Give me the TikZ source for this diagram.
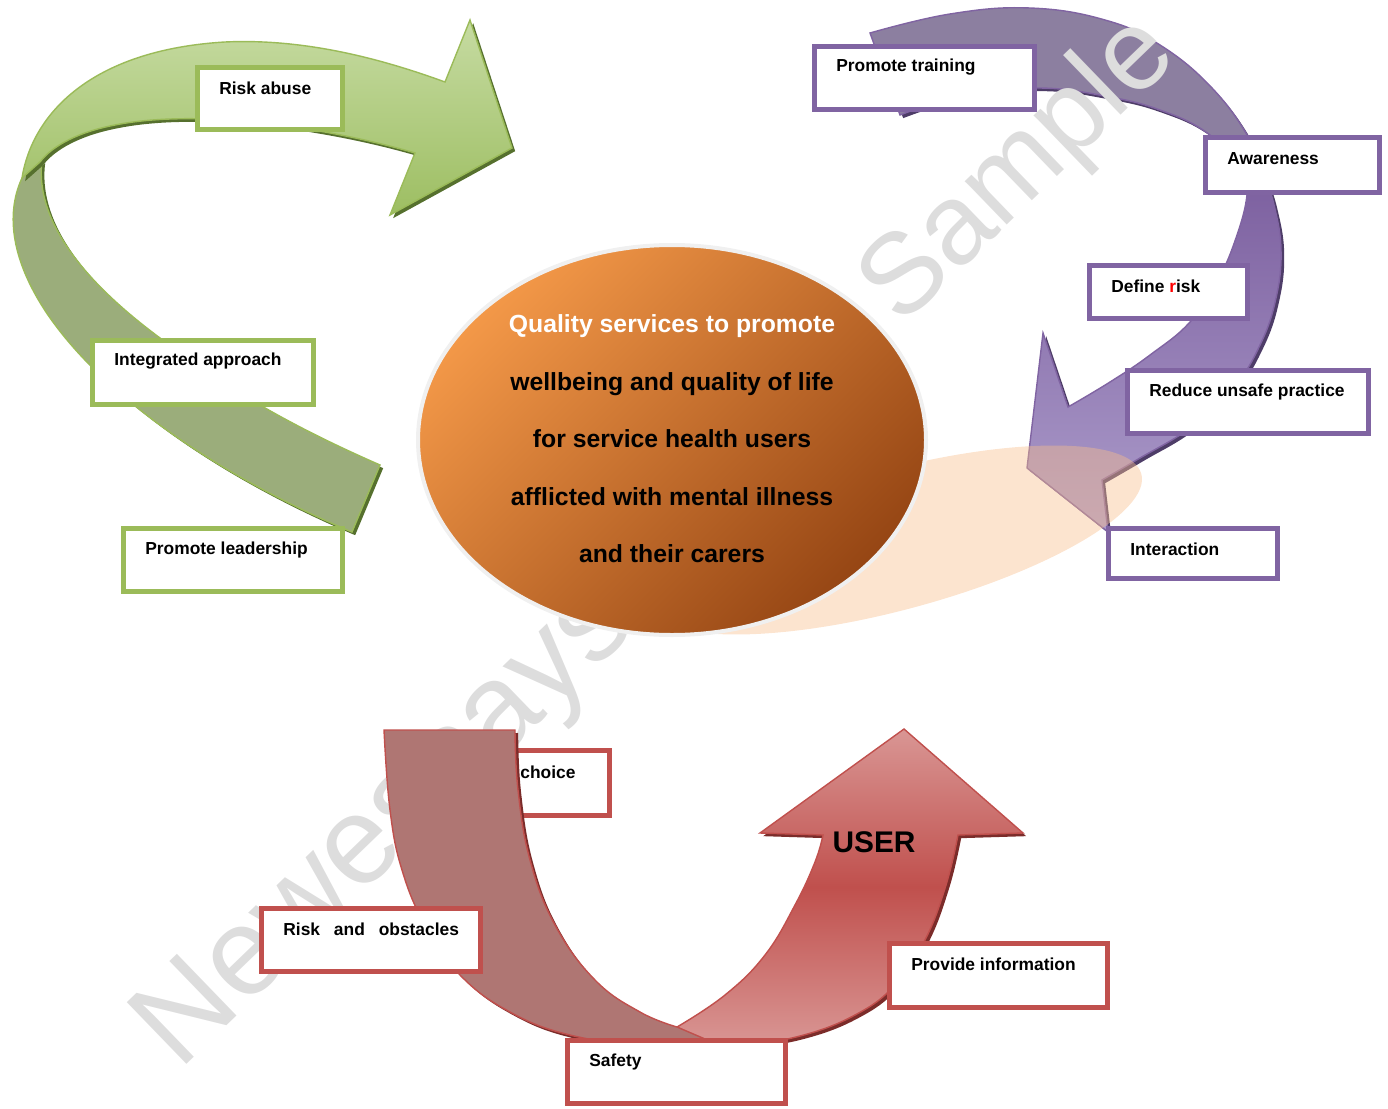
\documentclass[tikz,border=0pt]{standalone}
\usepackage{fontspec}
\setmainfont{Liberation Sans}
\usetikzlibrary{positioning}

\definecolor{grnline}{HTML}{9BBB59}
\definecolor{grntop}{HTML}{C6DBA2}
\definecolor{grnbot}{HTML}{9DBE62}
\definecolor{grnback}{HTML}{9BAD7B}
\definecolor{grndark}{HTML}{56702E}
\definecolor{purline}{HTML}{8064A2}
\definecolor{purback}{HTML}{8C7FA0}
\definecolor{purtop}{HTML}{7B5E9E}
\definecolor{purbot}{HTML}{AC9CCB}
\definecolor{purdark}{HTML}{4E3D68}
\definecolor{redline}{HTML}{C0504D}
\definecolor{redback}{HTML}{AF7673}
\definecolor{redpale}{HTML}{D99694}
\definecolor{reddark}{HTML}{7B2C2A}
\definecolor{orglight}{HTML}{F39848}
\definecolor{orgdark}{HTML}{964614}
\definecolor{peach}{HTML}{F8BE8C}

\newlength{\pxu}
\setlength{\pxu}{0.02cm}

\begin{document}
\begin{tikzpicture}[x=1\pxu,y=-1\pxu,
tag/.style={anchor=west,inner sep=0pt,font=\fontsize{9.9}{12}\selectfont\bfseries},
box/.style={draw,line width=2.8pt,fill=white,anchor=north west,inner sep=0pt},
gbox/.style={box,draw=grnline},pbox/.style={box,draw=purline},rbox/.style={box,draw=redline},
wmtext/.style={text=gray!27,rotate=44,inner sep=0pt},
gshadow/.style={preaction={fill=grndark,transform canvas={xshift=1.8pt,yshift=-1.8pt}}},
pshadow/.style={preaction={fill=purdark,transform canvas={xshift=1.8pt,yshift=-1.8pt}}},
rshadow/.style={preaction={fill=reddark,transform canvas={xshift=1.8pt,yshift=-1.8pt}}},
edgeline/.style={line width=0.8pt}]
\useasboundingbox (0,0) rectangle (1388,1108);

% watermark, lower half
\node[wmtext,font=\fontsize{71}{71}\selectfont] (wm1) at (388,828) {Newessays};

% green ribbon
\filldraw[fill=grnback,draw=grnline,edgeline,gshadow]
(42,160) .. controls (35,215) and (75,275) .. (160,338)
.. controls (230,392) and (300,430) .. (380,465) -- (352,532)
.. controls (235,483) and (110,405) .. (48,315)
.. controls (12,262) and (5,215) .. (22,178) -- cycle;
\shade[top color=grntop,bottom color=grnbot,draw=grnline,edgeline,gshadow]
(22,178) .. controls (32,115) and (90,50) .. (225,42)
.. controls (310,38) and (390,62) .. (445,82) -- (470,20) -- (512,148) -- (390,215) -- (415,153)
.. controls (330,128) and (200,108) .. (115,125)
.. controls (78,132) and (52,146) .. (40,162) -- cycle;

\node[gbox,minimum width=145\pxu,minimum height=62\pxu] (abuse) at (195,65) {};
\node[tag] (abuse-t) at ([shift={(24,23.5)}]abuse.north west) {Risk abuse};
\node[gbox,minimum width=221\pxu,minimum height=64\pxu] (integ) at (90,338) {};
\node[tag] (integ-t) at ([shift={(24,23.5)}]integ.north west) {Integrated approach};
\node[gbox,minimum width=219\pxu,minimum height=63\pxu] (lead) at (121,526) {};
\node[tag] (lead-t) at ([shift={(24,23.5)}]lead.north west) {Promote leadership};

% purple ribbon
\filldraw[fill=purback,draw=purline,edgeline,pshadow]
plot[smooth,tension=0.7] coordinates {(870,33) (950,14) (1030,8) (1105,20) (1160,45) (1212,88) (1250,140) (1268,185)}
-- plot[smooth,tension=0.7] coordinates {(1250,190) (1232,158) (1203,130) (1160,110) (1110,97) (1040,88) (965,95) (900,115)}
-- cycle;
\shade[top color=purtop,bottom color=purbot,draw=purline,edgeline,pshadow]
plot[smooth,tension=0.7] coordinates {(1262,168) (1274,205) (1281,250) (1276,298) (1260,345) (1232,390) (1190,428) (1140,458) (1102,480)}
-- (1108,532) -- (1027,468) -- (1043,333) -- (1068,407)
-- plot[smooth,tension=0.7] coordinates {(1068,407) (1110,382) (1150,355) (1190,322) (1218,280) (1237,235) (1247,195) (1245,168)}
-- cycle;

% watermark, upper half
\node[wmtext,font=\fontsize{65}{65}\selectfont] (wm2) at (1020,172) {Sample};

\node[pbox,minimum width=220\pxu,minimum height=63\pxu] (train) at (812,44) {};
\node[tag] (train-t) at ([shift={(24,23.5)}]train.north west) {Promote training};
\node[pbox,minimum width=174\pxu,minimum height=55\pxu] (aware) at (1203,135) {};
\node[tag] (aware-t) at ([shift={(24,23.5)}]aware.north west) {Awareness};
\node[pbox,minimum width=158\pxu,minimum height=53\pxu] (define) at (1087,263) {};
\node[tag] (define-t) at ([shift={(24,23.5)}]define.north west) {Define {\color{red}r}isk};
\node[pbox,minimum width=241\pxu,minimum height=63\pxu] (reduce) at (1125,368) {};
\node[tag] (reduce-t) at ([shift={(24,23.5)}]reduce.north west) {Reduce unsafe practice};

% reflection and centre
\fill[peach,fill opacity=0.42,rotate around={15:(895,540)}] (895,540) ellipse [x radius=255,y radius=70];
\shade[top color=orglight,bottom color=orgdark,shading angle=45,draw=black!6,line width=4\pxu]
(672,440) ellipse [x radius=254,y radius=195];
\node[align=center,font=\fontsize{14.1}{32.7}\selectfont\bfseries] (goal) at (672,439)
{{\color{white}Quality services to promote}\\wellbeing and quality of life\\for service health users\\afflicted with mental illness\\and their carers};

\node[pbox,minimum width=169\pxu,minimum height=50\pxu] (inter) at (1106,526) {};
\node[tag] (inter-t) at ([shift={(24,23.5)}]inter.north west) {Interaction};

% red ribbon
\node[rbox,minimum width=137\pxu,minimum height=65\pxu] (choice) at (470,748) {};
\node[tag] (choice-t) at (520,772) {choice};
\shade[top color=redpale,bottom color=redpale,middle color=redline,draw=redline,edgeline,rshadow]
plot[smooth,tension=0.7] coordinates {(677,1027) (725,995) (765,955) (795,905) (815,862) (823,835)}
-- (760,833) -- (904,729) -- (1023,833) -- (958,835)
-- plot[smooth,tension=0.7] coordinates {(958,835) (946,885) (925,940) (895,985) (855,1015) (800,1036) (745,1044) (705,1042)}
-- cycle;
\filldraw[fill=redback,draw=redline,edgeline,rshadow]
(384,730) -- (515,730)
-- plot[smooth,tension=0.7] coordinates {(515,730) (518,790) (530,860) (555,925) (595,980) (640,1012) (677,1027)}
-- (712,1042)
-- plot[smooth,tension=0.7] coordinates {(712,1042) (640,1044) (570,1035) (510,1012) (460,975) (425,925) (402,870) (390,810) (384,730)}
-- cycle;
\node[font=\fontsize{17}{20}\selectfont\bfseries] (user) at (874,842) {USER};

\node[rbox,minimum width=219\pxu,minimum height=63\pxu] (obst) at (259,906) {};
\node[tag] (obst-t) at ([shift={(24,23.5)}]obst.north west) {Risk\hspace{7.9pt}and\hspace{7.9pt}obstacles};
\node[rbox,minimum width=218\pxu,minimum height=64\pxu] (info) at (887,941) {};
\node[tag] (info-t) at ([shift={(24,23.5)}]info.north west) {Provide information};
\node[rbox,minimum width=218\pxu,minimum height=63\pxu] (safety) at (565,1038) {};
\node[tag] (safety-t) at ([shift={(24,23.5)}]safety.north west) {Safety};
\end{tikzpicture}
\end{document}
